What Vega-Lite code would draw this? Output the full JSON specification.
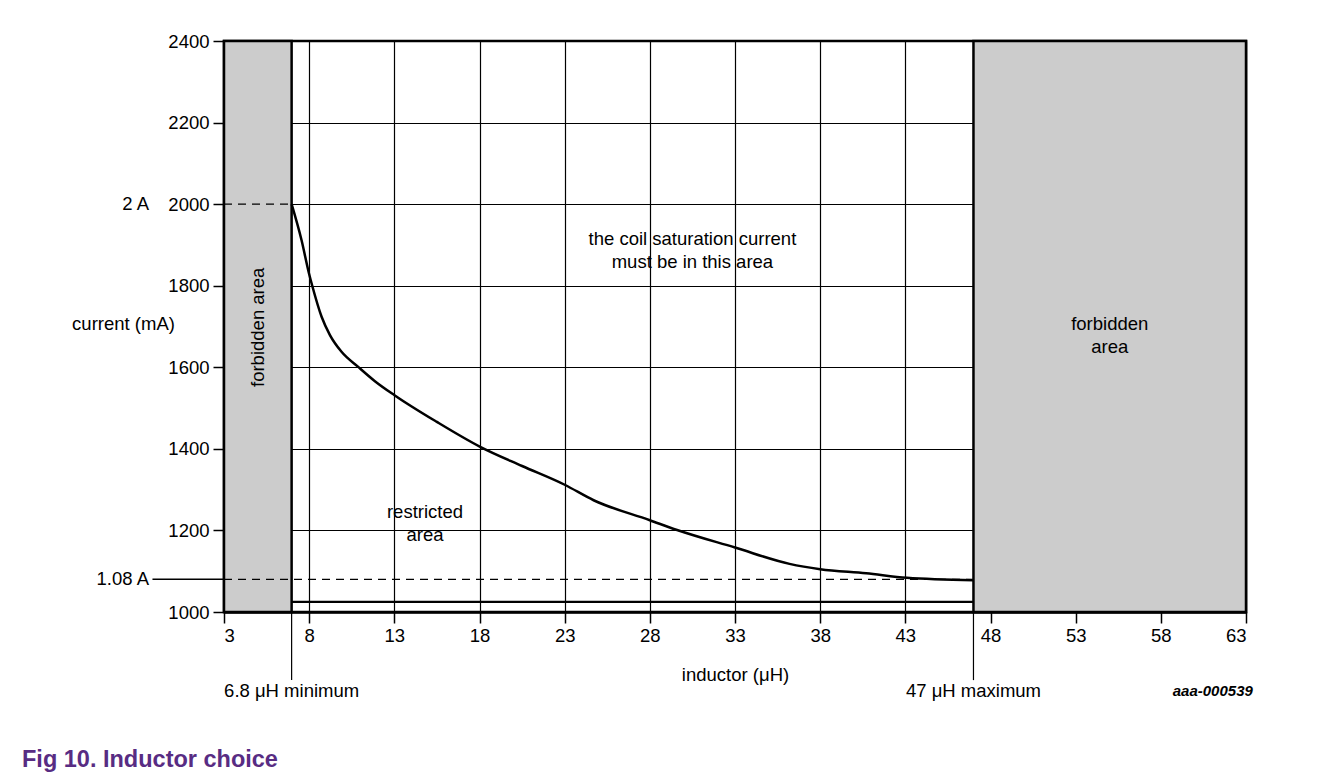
{
  "$schema": "https://vega.github.io/schema/vega-lite/v6.json",
  "width": 1022,
  "height": 571,
  "autosize": {"type": "none"},
  "padding": {"left": 224, "top": 41, "right": 80, "bottom": 165},
  "background": "white",
  "config": {
    "view": {"stroke": "black", "strokeWidth": 2.5},
    "font": "Liberation Sans",
    "text": {"font": "Liberation Sans", "fontSize": 18.5, "color": "black"}
  },
  "title": {
    "text": "Fig 10. Inductor choice",
    "orient": "bottom",
    "anchor": "start",
    "frame": "group",
    "dx": -202,
    "offset": 47,
    "font": "Liberation Sans",
    "fontSize": 23.5,
    "fontWeight": "bold",
    "color": "#582C83"
  },
  "datasets": {
    "curve": [
      {"L": 6.97, "I": 2000}, {"L": 7.55, "I": 1912}, {"L": 7.99, "I": 1830},
      {"L": 8.18, "I": 1800}, {"L": 8.73, "I": 1724}, {"L": 9.22, "I": 1679},
      {"L": 9.9, "I": 1638}, {"L": 10.88, "I": 1601}, {"L": 11.86, "I": 1566},
      {"L": 13.03, "I": 1531}, {"L": 15.5, "I": 1466}, {"L": 18.04, "I": 1405},
      {"L": 20.5, "I": 1358}, {"L": 23.0, "I": 1312}, {"L": 24.7, "I": 1274},
      {"L": 28.0, "I": 1225}, {"L": 29.6, "I": 1201}, {"L": 33.0, "I": 1158},
      {"L": 36.2, "I": 1118}, {"L": 38.0, "I": 1105}, {"L": 40.7, "I": 1095},
      {"L": 43.1, "I": 1084}, {"L": 47.0, "I": 1078}
    ],
    "zones": [
      {"x": 3, "x2": 6.97, "y": 1000, "y2": 2400},
      {"x": 47, "x2": 63, "y": 1000, "y2": 2400}
    ]
  },
  "layer": [
    {
      "data": {"name": "zones"},
      "mark": {"type": "rect", "fill": "#cccccc", "stroke": "black", "strokeWidth": 2.5},
      "encoding": {
        "x": {
          "field": "x", "type": "quantitative",
          "scale": {"domain": [3, 63], "nice": false, "zero": false},
          "axis": {
            "values": [3, 8, 13, 18, 23, 28, 33, 38, 43, 48, 53, 58, 63],
            "format": "d",
            "title": "inductor (μH)",
            "titleFont": "Liberation Sans", "titleFontSize": 18.5, "titleFontWeight": "normal", "titleColor": "black",
            "titleBaseline": "middle", "titleY": 62,
            "labelFont": "Liberation Sans", "labelFontSize": 18.5, "labelColor": "black", "labelPadding": 3,
            "tickSize": 11, "tickWidth": 1.5, "tickColor": "black",
            "domainColor": "black", "domainWidth": 2.5,
            "grid": true, "gridColor": "black", "gridWidth": 1.2
          }
        },
        "x2": {"field": "x2"},
        "y": {
          "field": "y", "type": "quantitative",
          "scale": {"domain": [1000, 2400], "nice": false, "zero": false},
          "axis": {
            "values": [1000, 1200, 1400, 1600, 1800, 2000, 2200, 2400],
            "format": "d",
            "title": "current (mA)",
            "titleFont": "Liberation Sans", "titleFontSize": 18.5, "titleFontWeight": "normal", "titleColor": "black",
            "titleAngle": 0, "titleAlign": "center", "titleBaseline": "middle",
            "titleX": -101, "titleY": 282,
            "labelFont": "Liberation Sans", "labelFontSize": 18.5, "labelColor": "black", "labelPadding": 4,
            "tickSize": 11, "tickWidth": 1.5, "tickColor": "black",
            "domainColor": "black", "domainWidth": 2.5,
            "grid": true, "gridColor": "black", "gridWidth": 1.2
          }
        },
        "y2": {"field": "y2"}
      }
    },
    {
      "data": {"values": [{"x": 6.97, "x2": 47, "y": 1025}]},
      "mark": {"type": "rule", "color": "black", "strokeWidth": 2.2},
      "encoding": {
        "x": {"field": "x", "type": "quantitative"},
        "x2": {"field": "x2"},
        "y": {"field": "y", "type": "quantitative"}
      }
    },
    {
      "data": {"values": [{"x": 3, "x2": 6.97, "y": 2000}, {"x": 3, "x2": 47, "y": 1080}]},
      "mark": {"type": "rule", "color": "black", "strokeWidth": 1.2, "strokeDash": [8, 6]},
      "encoding": {
        "x": {"field": "x", "type": "quantitative"},
        "x2": {"field": "x2"},
        "y": {"field": "y", "type": "quantitative"}
      }
    },
    {
      "data": {"values": [{"x": -1.2, "x2": 3, "y": 1080}]},
      "mark": {"type": "rule", "color": "black", "strokeWidth": 1.5},
      "encoding": {
        "x": {"field": "x", "type": "quantitative"},
        "x2": {"field": "x2"},
        "y": {"field": "y", "type": "quantitative"}
      }
    },
    {
      "data": {"values": [{"x": 6.97, "y": 1000, "y2": 833}, {"x": 47, "y": 1000, "y2": 833}]},
      "mark": {"type": "rule", "color": "black", "strokeWidth": 1.2},
      "encoding": {
        "x": {"field": "x", "type": "quantitative"},
        "y": {"field": "y", "type": "quantitative"},
        "y2": {"field": "y2"}
      }
    },
    {
      "data": {"name": "curve"},
      "mark": {"type": "line", "color": "black", "strokeWidth": 2.5, "interpolate": "monotone"},
      "encoding": {
        "x": {"field": "L", "type": "quantitative"},
        "y": {"field": "I", "type": "quantitative"}
      }
    },
    {
      "data": {"values": [
        {"x": 30.5, "y": 1915, "t": ["the coil saturation current", "must be in this area"]},
        {"x": 14.8, "y": 1245, "t": ["restricted", "area"]},
        {"x": 55.0, "y": 1705, "t": ["forbidden", "area"]}
      ]},
      "mark": {"type": "text", "align": "center", "baseline": "middle", "lineHeight": 23},
      "encoding": {
        "x": {"field": "x", "type": "quantitative"},
        "y": {"field": "y", "type": "quantitative"},
        "text": {"field": "t"}
      }
    },
    {
      "data": {"values": [{"x": 4.97, "y": 1698, "t": "forbidden area"}]},
      "mark": {"type": "text", "align": "center", "baseline": "middle", "angle": 270},
      "encoding": {
        "x": {"field": "x", "type": "quantitative"},
        "y": {"field": "y", "type": "quantitative"},
        "text": {"field": "t"}
      }
    },
    {
      "data": {"values": [
        {"x": 6.97, "y": 806, "t": "6.8 μH minimum"},
        {"x": 47, "y": 806, "t": "47 μH maximum"}
      ]},
      "mark": {"type": "text", "align": "center", "baseline": "middle"},
      "encoding": {
        "x": {"field": "x", "type": "quantitative"},
        "y": {"field": "y", "type": "quantitative"},
        "text": {"field": "t"}
      }
    },
    {
      "data": {"values": [
        {"x": -1.4, "y": 2000, "t": "2 A"},
        {"x": -1.4, "y": 1080, "t": "1.08 A"}
      ]},
      "mark": {"type": "text", "align": "right", "baseline": "middle"},
      "encoding": {
        "x": {"field": "x", "type": "quantitative"},
        "y": {"field": "y", "type": "quantitative"},
        "text": {"field": "t"}
      }
    },
    {
      "data": {"values": [{"x": 63.4, "y": 806, "t": "aaa-000539"}]},
      "mark": {"type": "text", "align": "right", "baseline": "middle", "fontSize": 15, "fontStyle": "italic", "fontWeight": "bold"},
      "encoding": {
        "x": {"field": "x", "type": "quantitative"},
        "y": {"field": "y", "type": "quantitative"},
        "text": {"field": "t"}
      }
    }
  ]
}
